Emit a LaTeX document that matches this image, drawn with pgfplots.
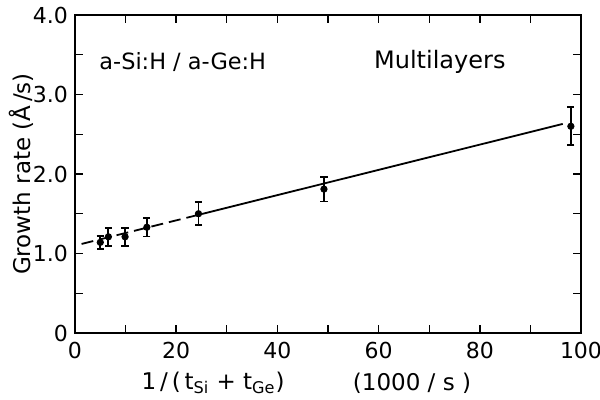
\documentclass[border=0pt]{standalone}
\usepackage{pgfplots}
\pgfplotsset{compat=1.18}
\usepackage{fontspec}
\setmainfont{DejaVu Sans}
\begin{document}
\begin{tikzpicture}
\begin{axis}[
  at={(0,0)}, anchor=south west,
  scale only axis, width=253pt, height=159pt,
  xmin=0, xmax=100, ymin=0, ymax=4,
  xtick={0,20,...,100}, minor xtick={10,30,...,90},
  ytick={0,1,2,3,4}, minor ytick={0.5,1.5,2.5,3.5},
  yticklabels={0,1.0,2.0,3.0,4.0},
  tick align=inside, major tick length=4pt, minor tick length=4pt,
  every tick/.style={black, line width=0.7pt},
  axis line style={line width=0.8pt},
  tick label style={font=\fontsize{11}{14}\selectfont},
  /pgf/number format/assume math mode=true,
  xticklabel style={yshift=-1pt},
  yticklabel style={xshift=0pt},
  ylabel={Growth rate (Å\,/s)},
  ylabel style={font=\fontsize{11.5}{13}\selectfont, yshift=-7pt},
  clip=false,
]
\addplot[black, line width=0.9pt, dash pattern=on 6pt off 3pt] coordinates {(1.3,1.12) (24,1.48)};
\addplot[black, line width=0.9pt] coordinates {(24,1.48) (96.4,2.63)};
\addplot[black, only marks, mark=*, mark size=1.6pt,
  error bars/.cd, y dir=both, y explicit,
  error bar style={line width=0.9pt}, error mark options={rotate=90, mark size=1.8pt, line width=0.9pt}]
  coordinates {
  (5,1.14) +- (0,0.08)
  (6.6,1.21) +- (0,0.115)
  (9.9,1.21) +- (0,0.115)
  (14.2,1.33) +- (0,0.115)
  (24.4,1.50) +- (0,0.145)
  (49.2,1.81) +- (0,0.155)
  (98,2.60) +- (0,0.24)
  };
\node[font=\fontsize{11.2}{14}\selectfont] at (rel axis cs:0.213,0.852) {a-Si:H / a-Ge:H};
\node[font=\fontsize{12}{14}\selectfont] at (rel axis cs:0.721,0.852) {Multilayers};
\node[font=\fontsize{11.5}{13}\selectfont] at (rel axis cs:0.273,-0.157) {1\,/\,(\,t$_{\mathrm{Si}}$ + t$_{\mathrm{Ge}}$)};
\node[font=\fontsize{11.5}{13}\selectfont] at (rel axis cs:0.666,-0.157) {(1000 / s )};
\end{axis}
\pgfresetboundingbox
\path (-37.5pt,-33.5pt) rectangle (262.5pt,166.5pt);
\end{tikzpicture}
\end{document}
